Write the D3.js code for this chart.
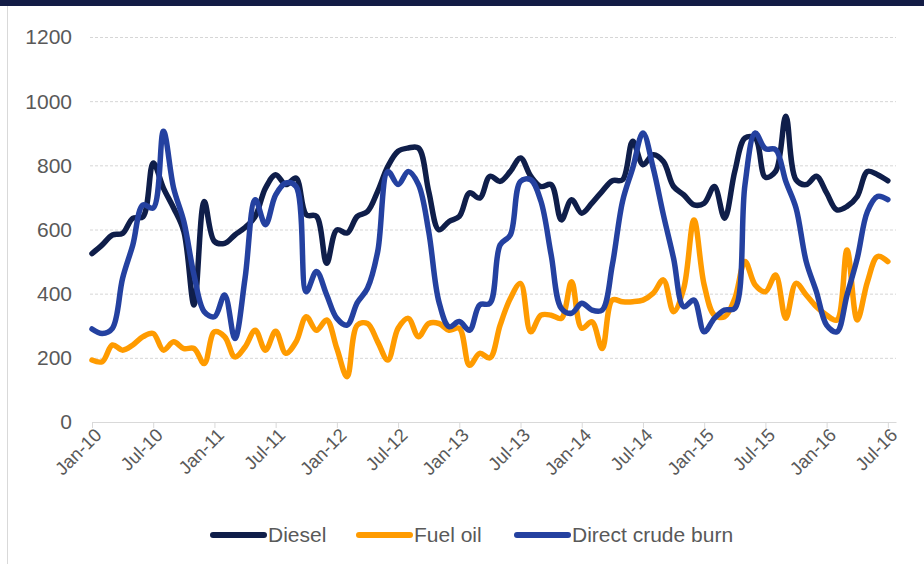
<!DOCTYPE html>
<html>
<head>
<meta charset="utf-8">
<script src="https://cdn.jsdelivr.net/npm/d3@7"></script>
<style>
  body { margin: 0; background: #fff; }
  svg { display: block; font-family: "Liberation Sans", Arial, sans-serif; }
</style>
</head>
<body>
<div id="chart"></div>
<script>
var width = 924,
    height = 564;

// monthly, Jan-10 .. Jul-16
var tickLabels = ["Jan-10", "Jul-10", "Jan-11", "Jul-11", "Jan-12", "Jul-12", "Jan-13",
                  "Jul-13", "Jan-14", "Jul-14", "Jan-15", "Jul-15", "Jan-16", "Jul-16"];
var yTicks = [0, 200, 400, 600, 800, 1000, 1200];

var diesel = [525, 552, 583, 588, 635, 640, 807, 729, 667, 594, 365, 687, 563,
              557, 583, 606, 641, 729, 771, 740, 760, 646, 641, 495, 599, 589, 641,
              656, 719, 797, 844, 854, 854, 719, 599, 625, 641, 714, 698, 766,
              750, 781, 823, 766, 734, 740, 630, 693, 651, 682, 719, 752, 755,
              875, 802, 833, 812, 734, 708, 677, 682, 734, 635, 781, 885, 885, 763,
              781, 953, 755, 740, 766, 714, 661, 672, 703, 781, 771, 752];

var fuelOil = [193, 188, 240, 224, 240, 266, 276, 224, 250, 229, 229, 182, 281,
               266, 203, 234, 286, 224, 283, 214, 250, 328, 286, 318, 229, 141, 302,
               307, 250, 193, 292, 323, 266, 307, 307, 286, 292, 177, 214, 200,
               302, 385, 432, 281, 333, 333, 323, 437, 292, 312, 229, 380, 375,
               375, 380, 401, 443, 344, 417, 630, 427, 333, 328, 385, 500, 427, 406,
               458, 323, 432, 396, 359, 333, 318, 536, 318, 437, 516, 500];

var crudeBurn = [290, 276, 292, 448, 552, 677, 667, 906, 729, 625, 458, 344, 328,
                 396, 260, 448, 693, 615, 708, 745, 734, 406, 469, 396, 323, 302, 372,
                 417, 531, 781, 740, 781, 740, 594, 375, 297, 313, 286, 365, 370,
                 552, 583, 750, 755, 688, 521, 354, 339, 370, 349, 349, 490, 688,
                 792, 901, 792, 646, 510, 359, 380, 281, 323, 349, 354, 740, 901, 852,
                 849, 750, 667, 500, 406, 302, 281, 396, 510, 656, 703, 693];

var seriesNames = ["Diesel", "Fuel oil", "Direct crude burn"];
var seriesColors = ["#0f1e4a", "#ff9b00", "#2441a0"];
var seriesData = [diesel, fuelOil, crudeBurn];

var svg = d3.select("#chart").append("svg")
    .attr("width", width)
    .attr("height", height);

// top band and left frame line
svg.append("rect").attr("x", 0).attr("y", 0).attr("width", width).attr("height", 6).attr("fill", "#131c45");
svg.append("line").attr("x1", 7.5).attr("x2", 7.5).attr("y1", 6).attr("y2", height)
    .attr("stroke", "#d9d9d9").attr("stroke-width", 1);

var x = d3.scaleLinear().domain([0, 78.8]).range([92, 896]);
var y = d3.scaleLinear().domain([0, 1200]).range([422, 37]);

// gridlines
svg.append("g").selectAll("line")
    .data(yTicks.filter(function(d) { return d > 0; }))
    .enter().append("line")
    .attr("x1", 90).attr("x2", 896)
    .attr("y1", function(d) { return y(d) + 0.5; })
    .attr("y2", function(d) { return y(d) + 0.5; })
    .attr("stroke", "#d6d6d6")
    .attr("stroke-dasharray", "3,2");

// y labels
svg.append("g").selectAll("text")
    .data(yTicks)
    .enter().append("text")
    .attr("x", 72)
    .attr("y", function(d) { return y(d); })
    .attr("dy", "0.35em")
    .attr("text-anchor", "end")
    .attr("font-size", "21px")
    .attr("fill", "#595959")
    .text(function(d) { return d; });

// x axis
var xAxis = d3.axisBottom(x)
    .tickValues(tickLabels.map(function(d, i) { return i * 6; }))
    .tickFormat(function(d, i) { return tickLabels[i]; })
    .tickSize(6)
    .tickSizeOuter(0);

var gx = svg.append("g")
    .attr("transform", "translate(0,422)")
    .call(xAxis);
gx.select(".domain").attr("stroke", "#d9d9d9");
gx.selectAll(".tick line").attr("stroke", "#d9d9d9");
gx.selectAll(".tick text")
    .attr("font-size", "18.5px")
    .attr("fill", "#595959")
    .attr("text-anchor", "end")
    .attr("dx", "-0.15em")
    .attr("dy", "0.45em")
    .attr("transform", "rotate(-45)");

// lines
var line = d3.line()
    .x(function(d, i) { return x(i); })
    .y(function(d) { return y(d); })
    .curve(d3.curveCatmullRom);

svg.append("g").selectAll("path")
    .data(seriesData)
    .enter().append("path")
    .attr("d", function(d) { return line(d); })
    .attr("fill", "none")
    .attr("stroke", function(d, i) { return seriesColors[i]; })
    .attr("stroke-width", 5.5)
    .attr("stroke-linejoin", "round")
    .attr("stroke-linecap", "round");

// legend
var legendX = [213, 359, 517];
var legend = svg.append("g").selectAll("g")
    .data(seriesNames)
    .enter().append("g")
    .attr("transform", function(d, i) { return "translate(" + legendX[i] + ",535)"; });

legend.append("line")
    .attr("x1", 0).attr("x2", 51)
    .attr("stroke", function(d, i) { return seriesColors[i]; })
    .attr("stroke-width", 6)
    .attr("stroke-linecap", "round");

legend.append("text")
    .attr("x", 55)
    .attr("dy", "0.35em")
    .attr("font-size", "21px")
    .attr("fill", "#595959")
    .text(function(d) { return d; });
</script>
</body>
</html>
